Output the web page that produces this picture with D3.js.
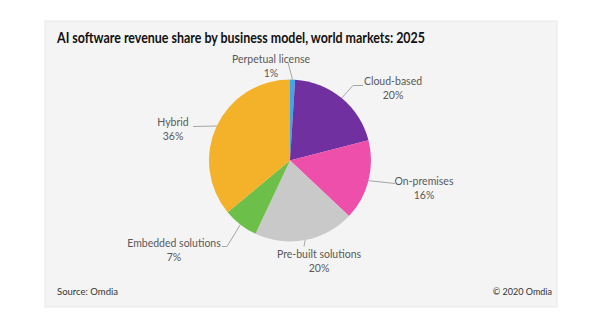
<!DOCTYPE html>
<html>
<head>
<meta charset="utf-8">
<script src="https://cdn.jsdelivr.net/npm/d3@7"></script>
<style>
  body { margin: 0; background: #fff; }
  svg text { font-family: Lato, "Open Sans", sans-serif; }
</style>
</head>
<body>
<div id="chart"></div>
<script>
var W = 600, H = 325;

// slice order, clockwise from 12 o'clock
var categories = ["Perpetual license", "Cloud-based", "On-premises", "Pre-built solutions", "Embedded solutions", "Hybrid"];
var shares = [1, 20, 16, 20, 7, 36];
var colors = ["#41a5ee", "#7030a0", "#ee4fab", "#c9c9c9", "#6cc04a", "#f4b12a"];

var panel = { x: 45, y: 21, w: 512, h: 286 };
var cx = 290, cy = 160.5, r = 81;

// label placement: text block centre + leader bends (relative to the pie centre)
var labelLayout = [
  { tx: -19, ty: -95, path: [[-2, -98]] },
  { tx: 103, ty: -73, path: [[63, -75], [73, -75]] },
  { tx: 134, ty: 27, path: [[105, 23]] },
  { tx: 29, ty: 100, path: [[14, 86]] },
  { tx: -116, ty: 89, path: [[-63, 86], [-68, 86]] },
  { tx: -117, ty: -32, path: [[-97, -34]] }
];

var svg = d3.select("#chart").append("svg")
    .attr("width", W)
    .attr("height", H);

svg.append("rect")
    .attr("x", panel.x).attr("y", panel.y)
    .attr("width", panel.w).attr("height", panel.h)
    .attr("fill", "#f4f4f4")
    .attr("stroke", "#e8e8e8");

var title = svg.append("text")
    .attr("x", 57).attr("y", 43)
    .attr("font-size", 14.5)
    .attr("font-weight", "bold")
    .attr("fill", "#111")
    .text("AI software revenue share by business model, world markets: 2025");
title.attr("textLength", 368).attr("lengthAdjust", "spacingAndGlyphs");

var data = categories.map(function(c, i) { return { name: c, value: shares[i], color: colors[i], layout: labelLayout[i] }; });

var pie = d3.pie().sort(null).value(function(d) { return d.value; });
var arc = d3.arc().innerRadius(0).outerRadius(r);
var edge = d3.arc().innerRadius(r).outerRadius(r);

var g = svg.append("g").attr("transform", "translate(" + cx + "," + cy + ")");

var arcs = pie(data);

g.selectAll("path.slice")
    .data(arcs)
    .enter().append("path")
    .attr("class", "slice")
    .attr("d", arc)
    .attr("fill", function(d) { return d.data.color; });

// leader lines from the rim to each label
var line = d3.line();
g.selectAll("path.leader")
    .data(arcs)
    .enter().append("path")
    .attr("class", "leader")
    .attr("d", function(d) { return line([edge.centroid(d)].concat(d.data.layout.path)); })
    .attr("fill", "none")
    .attr("stroke", "#a6a6a6")
    .attr("stroke-width", 1);

var labels = g.selectAll("g.label")
    .data(arcs)
    .enter().append("g")
    .attr("class", "label")
    .attr("transform", function(d) { return "translate(" + d.data.layout.tx + "," + d.data.layout.ty + ")"; });

labels.append("text")
    .attr("text-anchor", "middle")
    .attr("y", -3)
    .attr("font-size", 10.5)
    .attr("fill", "#595959")
    .text(function(d) { return d.data.name; });

labels.append("text")
    .attr("text-anchor", "middle")
    .attr("y", 11)
    .attr("font-size", 10.5)
    .attr("fill", "#595959")
    .text(function(d) { return d.data.value + "%"; });

svg.append("text")
    .attr("x", 57).attr("y", 295)
    .attr("font-size", 9.5)
    .attr("fill", "#333")
    .text("Source: Omdia");

svg.append("text")
    .attr("x", 552).attr("y", 295)
    .attr("text-anchor", "end")
    .attr("font-size", 9)
    .attr("fill", "#333")
    .text("\u00a9 2020 Omdia");
</script>
</body>
</html>
